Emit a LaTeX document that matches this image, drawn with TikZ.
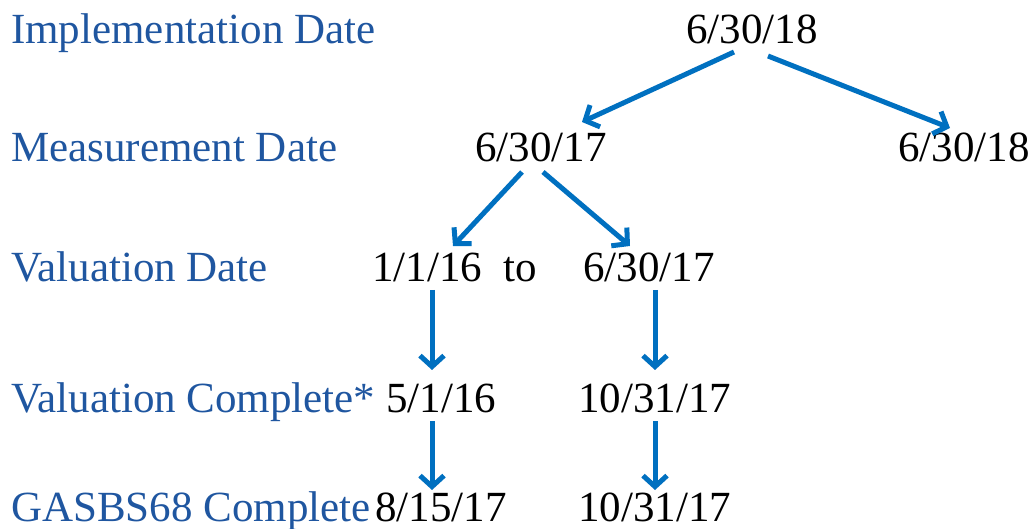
\documentclass[tikz,border=0pt]{standalone}
\usepackage{fontspec}
\newfontfamily\timesfont{Liberation Serif}
\usetikzlibrary{arrows.meta}
\definecolor{labelblue}{HTML}{1F56A0}
\definecolor{arrowblue}{HTML}{0070C0}
\tikzset{
  rowlabel/.style={anchor=base west, inner sep=0pt, text=labelblue, font=\timesfont\fontsize{43}{50}\selectfont},
  datetext/.style={anchor=base west, inner sep=0pt, text=black, font=\timesfont\fontsize{43}{50}\selectfont},
  arr/.style={draw=arrowblue, line width=5pt, -{Straight Barb[length=11pt,width=24pt,line width=5pt]}}
}
\begin{document}
\begin{tikzpicture}[x=1pt,y=-1pt]
\useasboundingbox (0,0) rectangle (1034,529);
% row labels
\node[rowlabel] (l1) at (11,44) {Implementation Date};
\node[rowlabel] (l2) at (11,162) {Measurement Date};
\node[rowlabel] (l3) at (11,282) {Valuation Date};
\node[rowlabel] (l4) at (11,412) {Valuation Complete*};
\node[rowlabel] (l5) at (11,521) {GASBS68 Complete};
% dates
\node[datetext] (impl) at (686,44) {6/30/18};
\node[datetext] (measA) at (475,162) {6/30/17};
\node[datetext] (measB) at (898,162) {6/30/18};
\node[datetext] (valA) at (372,282) {1/1/16\ \ to};
\node[datetext] (valB) at (583,282) {6/30/17};
\node[datetext] (compA) at (386,412) {5/1/16};
\node[datetext] (compB) at (578,412) {10/31/17};
\node[datetext] (gasA) at (375,521) {8/15/17};
\node[datetext] (gasB) at (578,521) {10/31/17};
% arrow end points
\coordinate (i1) at (734,52);
\coordinate (i2) at (768,56);
\coordinate (m1) at (582,122);
\coordinate (m2) at (950,128);
\coordinate (ma) at (522,172);
\coordinate (mb) at (543,172);
\coordinate (va) at (453,246);
\coordinate (vb) at (630,246);
\coordinate (va0) at (432,290);
\coordinate (vb0) at (655,290);
\coordinate (ca) at (432,370);
\coordinate (cb) at (655,370);
\coordinate (ca0) at (432,421);
\coordinate (cb0) at (655,421);
\coordinate (ga) at (432,490);
\coordinate (gb) at (655,490);
% connectors
\draw[arr] (i1) -- (m1);
\draw[arr] (i2) -- (m2);
\draw[arr] (ma) -- (va);
\draw[arr] (mb) -- (vb);
\draw[arr] (va0) -- (ca);
\draw[arr] (vb0) -- (cb);
\draw[arr] (ca0) -- (ga);
\draw[arr] (cb0) -- (gb);
\end{tikzpicture}
\end{document}
